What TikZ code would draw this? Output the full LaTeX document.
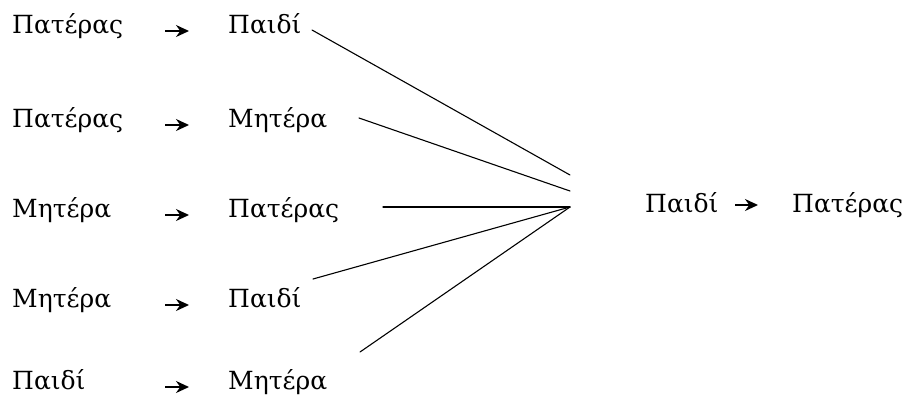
\documentclass[tikz,border=0pt]{standalone}
\usepackage{fontspec}
\setmainfont{DejaVu Serif}
\usetikzlibrary{arrows.meta}

\begin{document}
\begin{tikzpicture}[x=1pt, y=1pt, >={Stealth[length=13pt,width=12pt]},
    word/.style={anchor=base west, inner sep=0pt, font=\fontsize{25}{30}\selectfont},
    link/.style={line width=1.1pt, line cap=round},
    tip/.style={->, line width=1.8pt}]
  \useasboundingbox (0,0) rectangle (906,-408);

  % left column: pairs
  \foreach \i/\a/\b/\y in {1/Πατέρας/Παιδί/33, 2/Πατέρας/Μητέρα/127,
      3/Μητέρα/Πατέρας/217, 4/Μητέρα/Παιδί/307, 5/Παιδί/Μητέρα/389} {
    \node[word] (L\i) at (12,-\y) {\a};
    \node[word] (R\i) at (228,-\y) {\b};
    \coordinate (s\i) at (165,-\y+2);
    \coordinate (e\i) at (189,-\y+2);
    \draw[tip] (s\i) -- (e\i);
  }

  \coordinate (M) at (570,-207);
  \coordinate (M1) at (570,-175);
  \coordinate (M2) at (570,-191);
  \coordinate (a1) at (312,-30);
  \coordinate (a2) at (359,-118);
  \coordinate (a3) at (383,-207);
  \coordinate (a4) at (313,-279);
  \coordinate (a5) at (360,-352);

  \draw[link] (a1) -- (M1);
  \draw[link] (a2) -- (M2);
  \draw[link] (a3) -- (M);
  \draw[link] (a4) -- (M);
  \draw[link] (a5) -- (M);

  % result
  \node[word] (K) at (645,-212) {Παιδί};
  \node[word] (P) at (792,-212) {Πατέρας};
  \coordinate (ks) at (735,-205);
  \coordinate (ke) at (758,-205);
  \draw[tip] (ks) -- (ke);
\end{tikzpicture}
\end{document}
